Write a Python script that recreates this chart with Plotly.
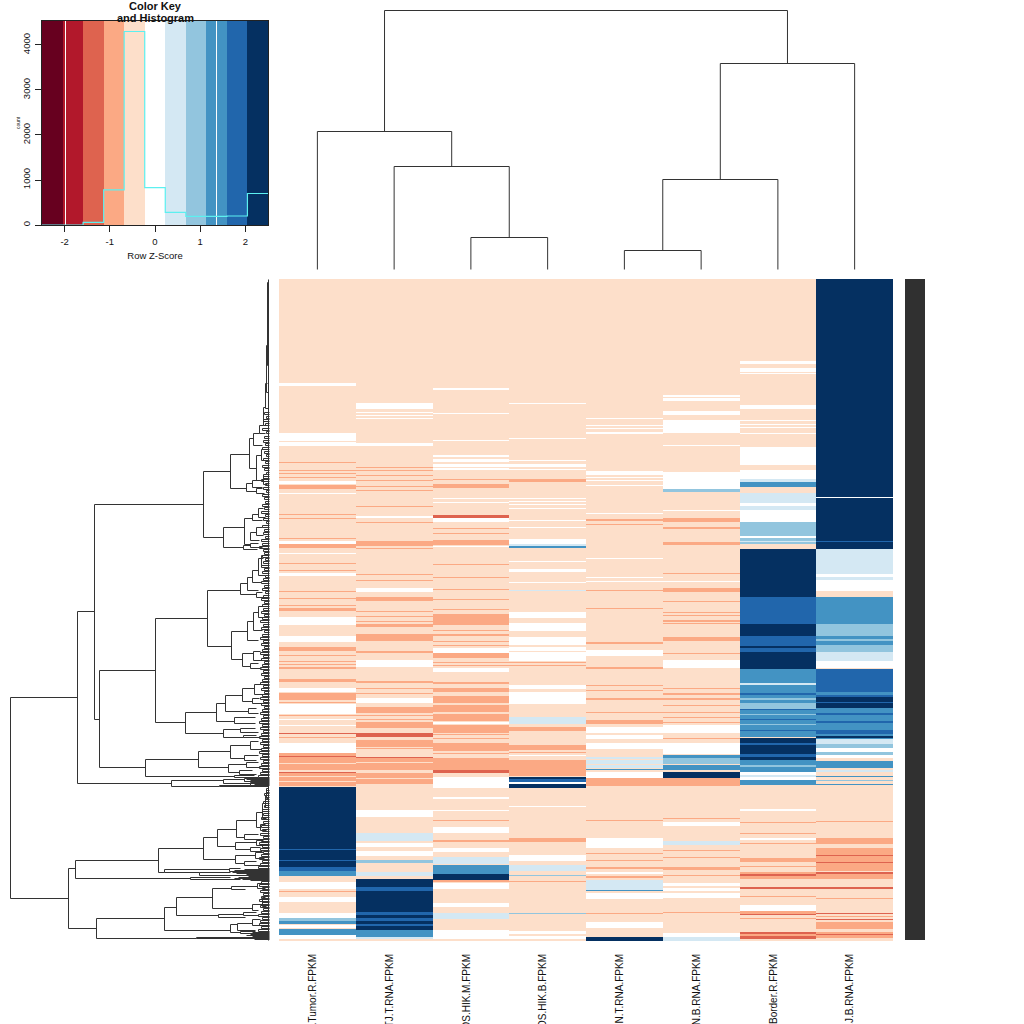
import plotly.graph_objects as go

# colour bins of the key, blue is high
bin_edges = [-2.5, -2.045, -1.591, -1.136, -0.682, -0.227, 0.227, 0.682, 1.136, 1.591, 2.045, 2.5]
bin_levels = [-5, -4, -3, -2, -1, 0, 1, 2, 3, 4, 5]
bin_colors = ["#67001F", "#B2182B", "#DE634F", "#FBA984", "#FDDFCA", "#FFFFFF",
              "#D4E8F3", "#92C5DE", "#4393C3", "#2166AC", "#053061"]
hist_counts = [0, 0, 60, 780, 4300, 830, 280, 190, 190, 200, 700]
key_white_lines = [-1.98, 1.361]

samples = [".Tumor.R.FPKM", "TJ.T.RNA.FPKM", "OS.HIK.M.FPKM", "OS.HIK.B.FPKM",
           "N.T.RNA.FPKM", "N.B.RNA.FPKM", "Border.R.FPKM", "T.J.B.RNA.FPKM"]

first_row = 279
last_row = 940
base_level = -1

# bands per sample: first row, last row, colour level (everything else is base_level)
col1 = [(383, 385, 0), (433, 440, 0), (442, 445, 0), (462, 462, -2), (470, 470, -2), (473, 473, -2),
        (477, 477, -2), (481, 483, 0), (485, 488, -2), (493, 493, 0), (514, 514, -2), (518, 518, -2),
        (538, 538, -2), (541, 543, 0), (544, 547, -2), (553, 553, 0), (563, 563, -2), (570, 570, -2),
        (573, 575, 0), (591, 591, -2), (598, 598, -2), (605, 605, -2), (608, 610, -2),
        (617, 624, 0), (636, 641, 0), (647, 650, -2), (655, 655, -2), (661, 661, -2), (664, 664, -2),
        (667, 668, -2), (679, 681, -2), (688, 691, 0), (693, 699, -2), (702, 702, -2), (704, 713, 0),
        (715, 715, -2), (719, 719, 0), (725, 725, 0), (733, 733, -3), (737, 737, -2), (743, 752, 0),
        (753, 769, -2), (756, 756, -3), (763, 763, -1), (771, 771, -1), (772, 772, -3), (773, 785, -2),
        (776, 776, -1), (781, 781, -1), (787, 848, 5), (849, 849, 4),
        (850, 859, 5), (860, 860, 4), (861, 866, 5), (867, 870, 4), (871, 875, 3), (882, 888, 0),
        (891, 891, -2), (897, 901, 0), (913, 918, 0), (918, 920, 2), (921, 923, 3), (925, 927, 0),
        (929, 934, 3), (935, 938, 0)]
col2 = [(403, 408, 0), (412, 412, 0), (415, 415, 0), (418, 418, 0), (443, 445, 0), (467, 467, -2),
        (470, 470, -2), (475, 475, -2), (480, 480, -2), (486, 486, -2), (490, 490, -2), (506, 506, -2),
        (516, 517, 0), (522, 522, -2), (541, 545, -2), (548, 548, -2), (574, 574, -2), (580, 580, -2),
        (588, 591, 0), (597, 600, -2), (611, 611, -2), (616, 616, -2), (621, 621, -2), (624, 626, -2),
        (634, 640, -2), (651, 652, -2), (660, 666, 0), (681, 682, -2), (688, 688, -2), (693, 693, -2),
        (698, 702, 0), (707, 712, -2), (715, 715, -2), (719, 719, -2), (722, 727, -2), (733, 736, -3),
        (740, 746, -2), (748, 748, -2), (757, 769, -2), (757, 757, -3), (762, 762, -1), (773, 783, -2),
        (778, 778, -1), (810, 816, 0),
        (833, 840, 1), (843, 846, 0), (851, 855, 0), (860, 862, 2), (872, 875, 1), (879, 886, 5),
        (887, 890, 4), (891, 911, 5), (912, 914, 4), (915, 917, 5), (918, 920, 4), (921, 923, 5),
        (924, 925, 4), (926, 929, 5), (930, 936, 3), (937, 938, 1)]
col3 = [(388, 389, 0), (413, 413, 0), (440, 440, 0), (455, 456, 0), (459, 461, 0), (464, 466, 0), (468, 469, 0),
        (479, 479, -2), (484, 487, -2), (498, 498, 0), (502, 502, 0), (515, 517, -3), (518, 521, 0),
        (528, 528, -2), (533, 533, -2), (540, 544, -2), (546, 546, 0), (564, 564, -2), (577, 577, -2),
        (589, 589, -2), (599, 599, -2), (609, 609, -2), (614, 624, -2), (630, 630, -2), (634, 635, -2),
        (641, 641, -2), (645, 645, -2), (648, 652, 0), (653, 657, -2), (662, 662, -2), (665, 665, -2),
        (668, 671, 0), (682, 683, -2), (688, 691, -2), (696, 702, -2), (705, 711, -2), (714, 720, -2),
        (722, 723, 0), (725, 732, -2), (734, 734, -2), (738, 738, -2), (743, 750, -2), (753, 753, -2),
        (758, 765, -2), (766, 769, -2), (770, 772, -3), (777, 787, 0), (797, 798, 0), (810, 810, 0),
        (820, 820, -2), (827, 832, 0), (840, 841, -2), (848, 851, 0), (857, 863, 1), (865, 873, 3),
        (874, 879, 5), (880, 881, -2), (883, 888, 0), (903, 906, 0), (913, 918, 1), (930, 938, 0)]
col4 = [(403, 403, 0), (438, 438, 0), (460, 460, 0), (464, 466, 0), (469, 469, 0), (479, 481, -2),
        (498, 498, 0), (501, 501, 0), (504, 504, 0), (508, 508, 0), (520, 520, 0), (527, 527, 0),
        (539, 544, 0), (544, 545, 1), (546, 547, 3), (561, 561, 0), (569, 571, 0), (582, 582, 0),
        (590, 590, 1), (612, 617, 0), (623, 630, 0), (637, 644, 0), (647, 650, 0), (652, 660, 0), (662, 662, -2),
        (665, 665, -2), (685, 688, 0), (692, 703, 0), (717, 723, 1), (727, 730, -2), (745, 749, -2),
        (752, 752, -2), (755, 755, 0), (760, 775, -2), (777, 778, 5), (779, 781, 4), (782, 783, 0),
        (784, 787, 5), (806, 806, 0), (838, 841, -2), (855, 860, 0), (865, 870, 1), (875, 875, 2),
        (881, 881, -2), (913, 913, 2), (931, 933, 0), (936, 938, 0)]
col5 = [(418, 418, 0), (425, 425, 0), (428, 428, 0), (432, 433, 0), (471, 474, 0), (477, 477, 0),
        (480, 480, 0), (485, 485, 0), (513, 513, 0), (519, 520, -2), (524, 524, -2), (558, 558, 0),
        (577, 577, 0), (581, 581, 0), (590, 590, -2), (608, 608, -2), (642, 643, -2), (650, 655, 0),
        (667, 668, -2), (685, 685, -2), (690, 690, -2), (698, 699, -2), (712, 712, -2), (720, 723, -2),
        (727, 732, 0), (735, 738, 0), (743, 748, 0), (757, 758, 1), (760, 763, 1), (765, 767, 1), (769, 769, 3),
        (772, 777, 0), (778, 785, -2), (820, 820, -2), (838, 847, 0), (853, 853, -2), (860, 860, -2), (867, 868, -2),
        (872, 873, 0), (876, 877, -2), (880, 889, 1), (890, 890, 3), (893, 898, 0), (913, 913, -2),
        (922, 927, 0), (937, 940, 5)]
col6 = [(395, 396, 0), (398, 400, 0), (411, 414, 0), (420, 432, 0), (445, 445, 0), (472, 477, 0),
        (478, 488, 0), (489, 491, 2), (510, 510, 0), (518, 521, -2), (527, 528, -2), (542, 544, -2),
        (573, 573, -2), (581, 581, 0), (588, 591, -2), (601, 601, -2), (612, 612, -2), (615, 615, -2),
        (620, 621, -2), (623, 623, -2), (637, 640, -2), (653, 653, -2), (660, 667, 0), (688, 688, -2),
        (693, 694, -2), (698, 699, -2), (705, 705, -2), (712, 712, -2), (717, 717, -2), (722, 722, -2),
        (725, 732, 0), (738, 738, -2), (743, 753, 0), (755, 757, 3), (758, 763, 2), (765, 769, 3),
        (772, 777, 5), (778, 785, -2), (818, 818, -2), (822, 825, 0), (841, 844, 1), (850, 850, -2),
        (857, 857, -2), (867, 869, -2), (875, 875, -2), (883, 885, 0), (888, 890, 0), (893, 897, 0),
        (912, 912, -2), (933, 936, 0), (937, 940, 1)]
col7 = [(361, 363, 0), (368, 371, 0), (373, 373, 0), (405, 408, 0), (420, 420, 0), (424, 424, 0),
        (427, 427, 0), (433, 433, 0), (447, 464, 0), (470, 478, 0), (479, 481, 1), (482, 486, 3),
        (493, 500, 1), (500, 510, 1), (503, 505, 0), (510, 522, 0), (522, 543, 2), (536, 537, 0),
        (541, 541, 1), (549, 596, 5), (597, 623, 4), (624, 635, 5), (636, 645, 4), (646, 647, 5),
        (648, 651, 4), (652, 668, 5), (669, 682, 3), (683, 684, 1), (685, 692, 3), (693, 694, 4),
        (695, 697, 3), (698, 699, 2), (700, 702, 3), (703, 708, 2), (709, 709, 4), (710, 723, 3),
        (714, 714, 2), (719, 719, 4), (724, 724, 2), (725, 736, 3), (730, 730, 4), (738, 753, 5),
        (743, 744, 4), (754, 756, 4), (757, 759, 5), (760, 771, 3), (765, 766, 2), (772, 774, 0),
        (775, 776, 1), (777, 779, 0), (780, 784, 3), (809, 810, 0), (822, 822, -2), (833, 833, -2),
        (838, 839, 0), (843, 843, -2), (858, 861, -2), (866, 866, -2), (872, 878, -2), (874, 875, -3),
        (887, 888, -3), (896, 896, -2), (905, 910, 0), (911, 913, -2), (914, 914, -3), (918, 918, -2),
        (932, 938, -3), (934, 935, -2)]
col8 = [(279, 496, 5), (497, 497, 0), (498, 548, 5), (541, 541, 4), (549, 557, 1), (558, 573, 1),
        (574, 576, 0), (577, 579, 1), (580, 590, 0), (597, 623, 3), (624, 635, 2), (636, 638, 3),
        (639, 640, 2), (641, 644, 3), (645, 651, 2), (652, 660, 1), (661, 667, 0), (669, 691, 4),
        (692, 694, 3), (695, 696, 4), (697, 701, 5), (702, 702, 4), (703, 707, 5), (708, 720, 3),
        (713, 714, 4), (721, 722, 4), (723, 729, 3), (730, 733, 4), (734, 735, 3), (736, 737, 5),
        (738, 738, 3), (739, 743, 1), (744, 747, 2), (748, 751, 0), (752, 754, 2), (755, 757, 0),
        (761, 767, 3), (770, 771, 1), (773, 773, -1), (776, 776, 3), (780, 780, 2), (784, 784, 3),
        (821, 821, -2), (838, 843, -2), (848, 870, -2), (855, 855, -3), (862, 862, -3), (872, 873, -3),
        (874, 878, -2), (887, 888, -3), (898, 898, -2), (913, 913, -3), (916, 916, -2), (919, 919, -3),
        (922, 928, -2), (932, 937, -2), (934, 934, -3)]
columns = [col1, col2, col3, col4, col5, col6, col7, col8]

# top tree, hclust style: negative = sample number, positive = earlier merge, with its height
top_merges = [(-3, -4, 32), (-2, 1, 103), (-1, 2, 138), (-5, -6, 19), (4, -7, 90), (5, -8, 206), (3, 6, 259)]

# left tree: branch position, top row, bottom row, end of top child, end of bottom child
row_tree = [
    (10, 697, 898, 77, 68), (77, 611, 783, 94, 171), (94, 504, 719, 203, 99), (203, 471, 537, 230, 223),
    (230, 454, 488, 249, 246), (249, 438, 468, 253, 256), (253, 433, 445, 259, 262), (259, 425, 433, 263, 265),
    (263, 407, 425, 265, 267), (265, 383, 408, 267, 268), (266, 345, 392, 268, 268), (267, 282, 365, 268, 268),
    (256, 455, 480, 261, 263), (261, 449, 460, 265, 266), (263, 474, 484, 266, 267), (246, 483, 491, 252, 256),
    (252, 480, 487, 258, 262), (256, 488, 493, 262, 264),
    (223, 527, 547, 244, 243), (244, 518, 544, 252, 250), (252, 514, 520, 258, 262), (258, 508, 517, 263, 265),
    (250, 532, 540, 256, 259), (256, 527, 535, 262, 263), (243, 545, 549, 250, 257), (250, 543, 547, 258, 262),
    (99, 670, 767, 155, 145), (155, 618, 722, 207, 185), (207, 590, 646, 240, 231), (240, 583, 594, 247, 256),
    (247, 577, 590, 252, 258), (252, 570, 582, 258, 261), (258, 558, 575, 263, 265), (261, 555, 565, 265, 266),
    (256, 592, 597, 262, 264), (231, 631, 659, 247, 242), (247, 621, 640, 253, 258), (253, 612, 630, 258, 262),
    (258, 606, 617, 263, 265), (242, 653, 666, 253, 250), (253, 651, 660, 260, 262), (250, 663, 668, 258, 261),
    (185, 712, 733, 216, 223), (216, 703, 721, 225, 234), (225, 695, 711, 242, 248), (242, 688, 701, 254, 252),
    (254, 684, 694, 261, 263), (252, 698, 703, 259, 262), (248, 708, 713, 256, 258), (234, 717, 723, 255, 255),
    (223, 729, 737, 240, 243), (240, 728, 732, 255, 258), (243, 735, 737, 256, 260),
    (145, 759, 776, 198, 234), (198, 751, 767, 230, 228), (230, 745, 758, 250, 244), (250, 741, 749, 258, 261),
    (244, 755, 760, 258, 256), (228, 764, 772, 246, 239), (246, 762, 767, 258, 260), (239, 770, 774, 252, 256),
    (234, 775, 777, 254, 258), (171, 780, 786, 223, 219), (223, 779, 783, 244, 250), (219, 785, 786, 250, 268),
    (244, 778, 781, 258, 262), (250, 782, 785, 262, 263),
    (68, 868, 928, 75, 96), (75, 860, 878, 158, 190), (158, 848, 872, 203, 164), (203, 837, 859, 217, 235),
    (217, 829, 846, 236, 235), (236, 820, 837, 256, 244), (256, 812, 827, 262, 260), (262, 803, 818, 265, 266),
    (265, 795, 807, 267, 267), (266, 788, 798, 268, 268), (260, 824, 830, 265, 266), (244, 834, 839, 258, 262),
    (235, 842, 849, 256, 250), (256, 840, 845, 263, 265), (250, 847, 851, 260, 262), (235, 855, 863, 255, 244),
    (255, 852, 858, 263, 264), (244, 861, 865, 256, 260), (164, 869, 872, 229, 199), (199, 872, 875, 230, 255),
    (229, 868, 871, 240, 245), (190, 877, 879, 230, 240),
    (96, 918, 938, 164, 196), (164, 907, 930, 176, 230), (176, 897, 915, 212, 218), (212, 888, 908, 231, 252),
    (231, 886, 889, 257, 245), (257, 883, 888, 263, 265), (252, 904, 910, 262, 258), (262, 897, 906, 265, 266),
    (218, 914, 917, 243, 245), (243, 912, 915, 256, 258), (230, 924, 932, 237, 240), (237, 923, 930, 252, 255),
    (252, 919, 925, 260, 262), (240, 931, 933, 255, 258), (196, 937, 938, 247, 250), (268, 279, 940, 268, 268),
]

# leaves packed against the heatmap: row and where the short branch starts
leaf_rows = [412, 416, 419, 423, 428, 431, 436, 440, 443, 447, 451, 454, 458, 461, 465, 468, 472, 476, 479, 483,
             487, 490, 494, 497, 501, 504, 507, 511, 514, 518, 521, 525, 529, 532, 536, 539, 543, 546, 549, 552,
             555, 558, 561, 565, 568, 571, 575, 578, 581, 585, 588, 591, 595, 598, 601, 604, 608, 611, 614, 617,
             620, 624, 627, 630, 634, 637, 640, 643, 646, 649, 652, 655, 658, 661, 664, 667, 670, 673, 676, 679,
             682, 685, 688, 691, 694, 697, 700, 703, 706, 709, 712, 715, 718, 721, 724, 727, 730, 733, 736, 739,
             742, 745, 748, 751, 754, 757, 760, 763, 766, 769, 772, 775, 790, 793, 797, 801, 805, 809, 813, 817,
             821, 825, 829, 833, 836, 839, 842, 845, 848, 851, 854, 857, 860, 863, 866, 881, 884, 887, 890, 893,
             896, 899, 902, 905, 908, 911, 914, 917, 920, 923, 926, 929]
leaf_starts = [264, 266, 263, 265, 262, 266, 264, 263, 265, 262, 264, 266, 263, 265, 262, 264, 266, 263, 261, 265,
               263, 266, 262, 264, 265, 262, 264, 261, 265, 263, 266, 262, 264, 263, 265, 261, 262, 259, 263, 264,
               262, 265, 263, 261, 264, 262, 265, 263, 261, 264, 262, 265, 263, 261, 264, 262, 263, 261, 264, 262,
               260, 263, 261, 264, 262, 260, 263, 261, 264, 262, 260, 263, 261, 264, 262, 260, 263, 261, 264, 262,
               260, 263, 261, 264, 262, 260, 263, 261, 264, 262, 260, 263, 261, 259, 262, 260, 263, 261, 259, 262,
               260, 263, 261, 259, 262, 260, 263, 261, 259, 262, 260, 258, 266, 264, 265, 263, 264, 262, 263, 261,
               263, 261, 262, 260, 263, 261, 259, 262, 260, 263, 261, 259, 262, 260, 258, 261, 259, 262, 260, 263,
               261, 259, 262, 260, 263, 261, 258, 262, 260, 259, 261, 258]
# the dense dark clusters
cluster_rows = [778, 779, 780, 781, 782, 783, 784, 785, 869, 870, 871, 872, 873, 874, 875, 876, 877, 878, 879, 880,
                932, 933, 934, 935, 936, 937, 938, 939]
cluster_starts = [252, 246, 250, 244, 252, 248, 254, 250, 244, 234, 240, 232, 236, 246, 232, 248, 238, 234, 242, 250,
                  252, 248, 250, 246, 252, 244, 248, 254]

line_col = "#333333"
tree_end = 269

# histogram steps from the bin edges
hist_x = bin_edges
hist_y = hist_counts + [hist_counts[-1]]

# heatmap matrix
rows = list(range(first_row, last_row + 1))
bin_width = 5 / 11
z = []
for r in rows:
    row_vals = []
    for c in columns:
        v = base_level
        for a, b, lev in c:
            if a <= r <= b:
                v = lev
        row_vals.append(v * bin_width)
    z.append(row_vals)

n = len(bin_levels)
colorscale = []
for i, col in enumerate(bin_colors):
    colorscale.append([i / n, col])
    colorscale.append([(i + 1) / n, col])

# tree segments
tx, ty = [], []
pos = {}
for i, (a, b, h) in enumerate(top_merges):
    pa, ha = (-a - 1, 0) if a < 0 else pos[a]
    pb, hb = (-b - 1, 0) if b < 0 else pos[b]
    tx += [pa, pa, pb, pb, None]
    ty += [ha, h, h, hb, None]
    pos[i + 1] = ((pa + pb) / 2, h)

lx, ly = [], []
for x, top, bot, end_top, end_bot in row_tree:
    lx += [end_top, x, x, end_bot, None]
    ly += [top, top, bot, bot, None]
for r, s in zip(leaf_rows, leaf_starts):
    # each leaf pair is a tiny bracket
    lx += [tree_end, s, s, tree_end, None]
    ly += [r, r, r + 2, r + 2, None]
for r, s in zip(cluster_rows, cluster_starts):
    lx += [s, tree_end, None]
    ly += [r, r, None]

fig = go.Figure()

# main heatmap
fig.add_trace(go.Heatmap(z=z, x=list(range(8)), y=rows, colorscale=colorscale, zmin=-2.5, zmax=2.5,
                         showscale=False, hoverinfo="skip", xaxis="x", yaxis="y"))
# left tree
fig.add_trace(go.Scatter(x=lx, y=ly, mode="lines", line=dict(color=line_col, width=1), hoverinfo="skip",
                         xaxis="x2", yaxis="y2"))
# top tree
fig.add_trace(go.Scatter(x=tx, y=ty, mode="lines", line=dict(color=line_col, width=1), hoverinfo="skip",
                         xaxis="x3", yaxis="y3"))
# colour key
fig.add_trace(go.Heatmap(z=[[l * bin_width for l in bin_levels]], x=bin_edges, y=[0, 4533],
                         colorscale=colorscale, zmin=-2.5, zmax=2.5, showscale=False, hoverinfo="skip",
                         xaxis="x4", yaxis="y4"))
for w in key_white_lines:
    fig.add_trace(go.Scatter(x=[w, w], y=[0, 4533], mode="lines", line=dict(color="white", width=1),
                             hoverinfo="skip", xaxis="x4", yaxis="y4"))
fig.add_trace(go.Scatter(x=hist_x, y=hist_y, mode="lines", line=dict(color="#5CF0F0", width=1.2, shape="hv"),
                         hoverinfo="skip", xaxis="x4", yaxis="y4"))

S = 1024
tick_font = dict(family="Liberation Sans", size=9.5, color="#111111")
col_font = dict(family="Liberation Sans", size=10, color="#111111")
fig.update_layout(
    width=S, height=S, margin=dict(l=0, r=0, t=0, b=0, autoexpand=False), plot_bgcolor="white", paper_bgcolor="white",
    showlegend=False,
    xaxis=dict(domain=[279 / S, 893 / S], range=[-0.5, 7.5], anchor="y", tickmode="array", automargin=False,
               tickvals=[-0.06 + i for i in range(8)], ticktext=samples, tickangle=-90, ticks="outside",
               ticklen=8, tickcolor="rgba(0,0,0,0)", tickfont=col_font, showgrid=False, zeroline=False),
    yaxis=dict(domain=[1 - 941 / S, 1 - 279 / S], range=[last_row + 0.5, first_row - 0.5], anchor="x",
               automargin=False, showticklabels=False, ticks="", showgrid=False, zeroline=False),
    xaxis2=dict(domain=[0, 270 / S], range=[-0.5, 269.5], anchor="y2", visible=False, automargin=False),
    yaxis2=dict(domain=[1 - 941 / S, 1 - 279 / S], range=[last_row + 0.5, first_row - 0.5], anchor="x2",
                visible=False, automargin=False),
    xaxis3=dict(domain=[279 / S, 893 / S], range=[-0.5, 7.5], anchor="y3", visible=False, automargin=False),
    yaxis3=dict(domain=[1 - 270 / S, 1], range=[-0.5, 269.5], anchor="x3", visible=False, automargin=False),
    xaxis4=dict(domain=[42 / S, 268 / S], range=[-2.5, 2.5], anchor="y4", tickmode="array", automargin=False,
                tickvals=[-2, -1, 0, 1, 2], ticktext=["-2", "-1", "0", "1", "2"], ticks="outside", ticklen=6,
                ticklabelstandoff=2, tickcolor="#222222", tickfont=tick_font, showgrid=False, zeroline=False,
                showline=True, linecolor="#222222", linewidth=1, mirror=True,
                title=dict(text="Row Z-Score", font=tick_font, standoff=5)),
    yaxis4=dict(domain=[1 - 225 / S, 1 - 21 / S], range=[0, 4533], anchor="x4", tickmode="array", automargin=False,
                tickvals=[0, 1000, 2000, 3000, 4000], ticktext=["0", "1000", "2000", "3000", "4000"],
                tickangle=-90, ticks="outside", ticklen=6, ticklabelstandoff=1, tickcolor="#222222",
                tickfont=tick_font, showgrid=False, zeroline=False, showline=True, linecolor="#222222",
                linewidth=1, mirror=True),
    annotations=[
        dict(text="<b>Color Key</b>", x=155 / S, y=1 - 6 / S, xref="paper", yref="paper", showarrow=False,
             font=dict(family="Liberation Sans", size=11, color="#111111"), xanchor="center", yanchor="middle"),
        dict(text="<b>and Histogram</b>", x=155 / S, y=1 - 17.5 / S, xref="paper", yref="paper", showarrow=False,
             font=dict(family="Liberation Sans", size=11, color="#111111"), xanchor="center", yanchor="middle"),
        dict(text="count", x=18 / S, y=1 - 123 / S, xref="paper", yref="paper", showarrow=False, textangle=-90,
             font=dict(family="Liberation Sans", size=5, color="#111111"), xanchor="center", yanchor="middle"),
    ],
    shapes=[
        # row label strip, thousands of labels overprint into a solid block
        dict(type="rect", xref="paper", yref="paper", x0=905 / S, x1=925 / S, y0=1 - 940 / S, y1=1 - 279 / S,
             fillcolor="#303030", line=dict(width=0)),
    ],
)

fig.write_html("out.html", config={"displayModeBar": False},
               post_script="document.body.style.margin='0';document.body.style.overflow='hidden';")
